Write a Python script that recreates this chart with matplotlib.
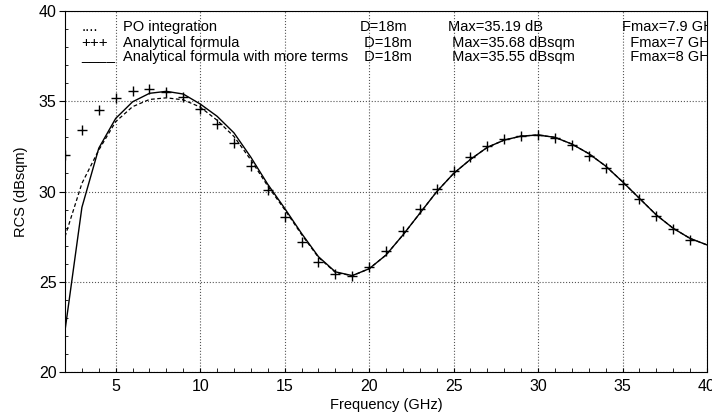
#!/usr/bin/env python3
"""
RCS versus frequency: PO integration compared with the analytical formula
(D = 18 m). Values read off the reference figure.
"""

import numpy as np
import matplotlib.pyplot as plt

# =============================================================================
# DATA
# =============================================================================

# PO integration (dotted/dashed curve), 1 GHz steps
freq_po = np.arange(2, 41)
rcs_po = [27.5, 30.45, 32.3, 33.87, 34.7, 35.1, 35.19, 35.08, 34.68, 33.95,
          33.05, 31.75, 30.3, 29.0, 27.62, 26.35, 25.52, 25.33, 25.72, 26.48,
          27.59, 28.79, 29.99, 31.0, 31.78, 32.45, 32.85, 33.07, 33.13, 33.0,
          32.63, 32.1, 31.41, 30.54, 29.62, 28.7, 27.96, 27.4, 27.04]

# Analytical formula (+ markers)
freq_af = np.arange(2, 40)
rcs_af = [32.0, 33.4, 34.5, 35.2, 35.57, 35.68, 35.5, 35.22, 34.56, 33.73,
          32.7, 31.43, 30.08, 28.6, 27.2, 26.1, 25.43, 25.34, 25.8, 26.72,
          27.83, 29.03, 30.12, 31.13, 31.93, 32.52, 32.89, 33.09, 33.13, 32.95,
          32.56, 31.97, 31.28, 30.44, 29.57, 28.66, 27.9, 27.31]

# Analytical formula with more terms (solid curve)
freq_mt = np.arange(2, 41)
rcs_mt = [22.3, 29.12, 32.4, 34.05, 34.97, 35.44, 35.55, 35.4, 34.85, 34.17,
          33.25, 31.9, 30.4, 29.07, 27.68, 26.39, 25.55, 25.34, 25.72, 26.48,
          27.59, 28.79, 29.99, 31.0, 31.78, 32.45, 32.85, 33.07, 33.13, 33.0,
          32.63, 32.1, 31.41, 30.54, 29.62, 28.7, 27.96, 27.4, 27.04]

# legend rows: symbol, name, D, max, fmax
leg_symbols = ['....', '+++', '____']
leg_names = ['PO integration', 'Analytical formula',
             'Analytical formula with more terms']
leg_d = ['D=18m', ' D=18m', ' D=18m']
leg_max = ['Max=35.19 dB', ' Max=35.68 dBsqm', ' Max=35.55 dBsqm']
leg_fmax = ['Fmax=7.9 GHz', '  Fmax=7 GHz', '  Fmax=8 GHz']

xticks = [5, 10, 15, 20, 25, 30, 35, 40]
yticks = [20, 25, 30, 35, 40]

# =============================================================================
# PLOT
# =============================================================================

plt.rcParams['font.family'] = ['Liberation Sans', 'DejaVu Sans']

fig = plt.figure(figsize=(7.12, 4.19), dpi=100)
ax = fig.add_axes([0.0913, 0.1122, 0.9017, 0.8615])

ax.plot(freq_po, rcs_po, color='black', linewidth=0.9, linestyle=(0, (3, 2)))
ax.plot(freq_af, rcs_af, linestyle='none', marker='+', markersize=7,
        markeredgewidth=1.0, color='black')
ax.plot(freq_mt, rcs_mt, color='black', linewidth=1.0)

ax.set_xlim(2, 40)
ax.set_ylim(20, 40)
ax.set_xticks(xticks)
ax.set_yticks(yticks)
ax.set_xticks(np.arange(2, 41), minor=True)
ax.set_yticks(np.arange(20, 41), minor=True)
ax.tick_params(axis='both', labelsize=11.5)
ax.tick_params(axis='x', which='both', direction='in', length=3, pad=5)
ax.tick_params(axis='y', which='major', direction='out', length=4, pad=2)
ax.tick_params(axis='y', which='minor', direction='in', length=2)
ax.grid(True, which='major', linestyle=':', color='#555555', linewidth=0.8)

for s in ax.spines.values():
    s.set_linewidth(0.8)

ax.set_xlabel('Frequency (GHz)', fontsize=10.5, labelpad=3)
ax.set_ylabel('RCS (dBsqm)', fontsize=10.5, labelpad=8)

# legend written as text columns (clipped at the right border)
row_y = [0.955, 0.912, 0.872]
for i in range(3):
    y = row_y[i]
    sym_y = y + 0.004 if i == 2 else y
    ax.text(0.026, sym_y, leg_symbols[i], transform=ax.transAxes,
            fontsize=11, va='center')
    ax.text(0.091, y, leg_names[i], transform=ax.transAxes,
            fontsize=10.5, va='center')
    ax.text(0.459, y, leg_d[i], transform=ax.transAxes,
            fontsize=10.5, va='center')
    ax.text(0.597, y, leg_max[i], transform=ax.transAxes,
            fontsize=10.5, va='center')
    t = ax.text(0.867, y, leg_fmax[i], transform=ax.transAxes,
                fontsize=10.5, va='center')
    t.set_clip_on(True)

plt.savefig('out.png', dpi=100)
